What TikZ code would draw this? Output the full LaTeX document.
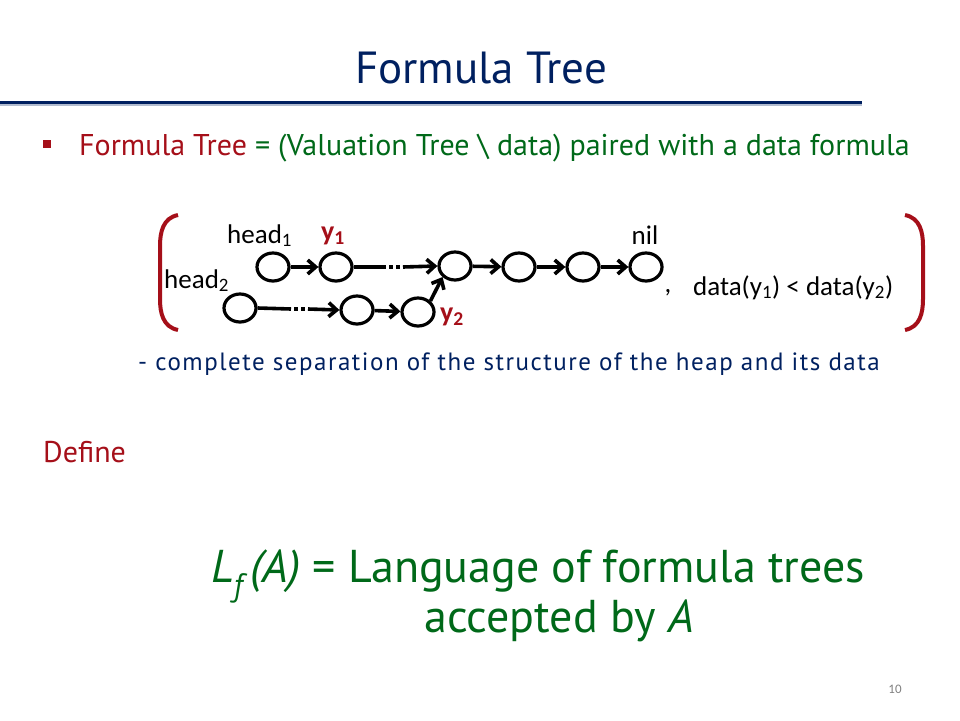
\documentclass[tikz,border=0pt]{standalone}
\usepackage{fontspec}
\setmainfont{PT Sans}
\newfontfamily\calibri{Carlito}
\newfontfamily\spaced[LetterSpace=6]{PT Sans}
\usetikzlibrary{arrows.meta,positioning}
\usetikzlibrary{shapes.geometric}
\definecolor{navy}{RGB}{0,32,96}
\definecolor{brick}{RGB}{165,15,25}
\definecolor{leaf}{RGB}{0,105,25}
\tikzstyle{cell} = [ellipse, draw, line width=3.2pt, minimum width=32pt, minimum height=28pt, inner sep=0pt]
\tikzstyle{link} = [-{Straight Barb[length=8pt,width=14pt]}, line width=3.6pt]
\tikzstyle{gap} = [line width=3.6pt, dash pattern=on 4pt off 3pt, dash phase=4pt]
\tikzstyle{paren} = [brick, line width=4pt]
\tikzstyle{small} = [font=\calibri\fontsize{27}{32}\selectfont, inner sep=0pt]
\tikzstyle{tag} = [inner sep=0pt, text=brick, font=\calibri\bfseries\fontsize{28}{32}\selectfont]

\begin{document}
\begin{tikzpicture}[x=1pt, y=-1pt]
    \useasboundingbox (0,0) rectangle (960,720);
    % heading
    \node[anchor=base, text=navy, font=\fontsize{45}{54}\selectfont] (title) at (481,83) {Formula Tree};
    \draw[line width=2pt, color=navy!30] (0,105) -- (862,105);
    \draw[line width=3pt, color=navy] (0,102) -- (862,102);
    \fill[brick] (43,140) rectangle (51,148);
    \node[anchor=base west, inner sep=0pt, font=\fontsize{30}{36}\selectfont] (bullet) at (79,155)
        {\textcolor{brick}{Formula Tree} \textcolor{leaf}{= (Valuation Tree \textbackslash\ data) paired with a data formula}};

    % the two lists
    \node[cell] (h1) at (273,267) {};
    \node[cell] (y1) at (336,267) {};
    \node[cell] (m) at (455,266) {};
    \node[cell] (n4) at (519,267) {};
    \node[cell] (n5) at (583,267) {};
    \node[cell] (nil) at (646,267) {};
    \node[cell] (h2) at (240,308) {};
    \node[cell] (b2) at (357,310) {};
    \node[cell] (y2) at (418,312) {};
    \coordinate (g1) at (386,267);
    \coordinate (g2) at (403,267);
    \coordinate (g3) at (291,309);
    \coordinate (g4) at (308,309);

    \draw[link] (h1) -- (y1);
    \draw[line width=3.6pt] (y1.east) -- (g1);
    \draw[gap] (g1) -- (g2);
    \draw[link] (g2) -- (m.west);
    \draw[link] (m) -- (n4);
    \draw[link] (n4) -- (n5);
    \draw[link] (n5) -- (nil);
    \draw[line width=3.6pt] (h2.east) -- (g3);
    \draw[gap] (g3) -- (g4);
    \draw[link] (g4) -- (b2.west);
    \draw[link] (b2) -- (y2);
    \draw[link] (y2.north east) -- (m.south west);

    \node[small, anchor=base west] (lh1) at (227,243) {head\textsubscript{1}};
    \node[small, anchor=base west] (lh2) at (164,288) {head\textsubscript{2}};
    \node[small, anchor=base] (lnil) at (645,244) {nil};
    \node[tag, anchor=base west] (ly1) at (321,240) {y\textsubscript{1}};
    \node[tag, anchor=base west] (ly2) at (440,321) {y\textsubscript{2}};
    \node[small, anchor=base] (comma) at (668,292) {,};
    \node[small, anchor=base west] (cond) at (693,295) {data(y\textsubscript{1}) < data(y\textsubscript{2})};

    % brackets
    \draw[paren] (178,215) .. controls (163,218) and (160,232) .. (160,246) -- (160,299) .. controls (160,313) and (163,327) .. (178,330);
    \draw[paren] (905,215) .. controls (920,218) and (923,232) .. (923,246) -- (923,299) .. controls (923,313) and (920,327) .. (905,330);

    \node[anchor=base west, inner sep=0pt, text=navy, font=\spaced\fontsize{25}{30}\selectfont] (note) at (138,370) {- complete separation of the structure of the heap and its data};
    \node[anchor=base west, inner sep=0pt, text=brick, font=\fontsize{30}{36}\selectfont] (define) at (43,462) {Define};

    \node[anchor=base, inner sep=0pt, text=leaf, font=\fontsize{46}{55}\selectfont] (lang) at (538,582)
        {\textit{L\textsubscript{f}\,(A)} = Language of formula trees};
    \node[anchor=base, inner sep=0pt, text=leaf, font=\fontsize{46}{55}\selectfont] (acc) at (559,632)
        {accepted by \textit{A}};
    \node[anchor=base, inner sep=0pt, text=gray, font=\calibri\fontsize{13}{15}\selectfont] (page) at (895,693) {10};
\end{tikzpicture}
\end{document}
